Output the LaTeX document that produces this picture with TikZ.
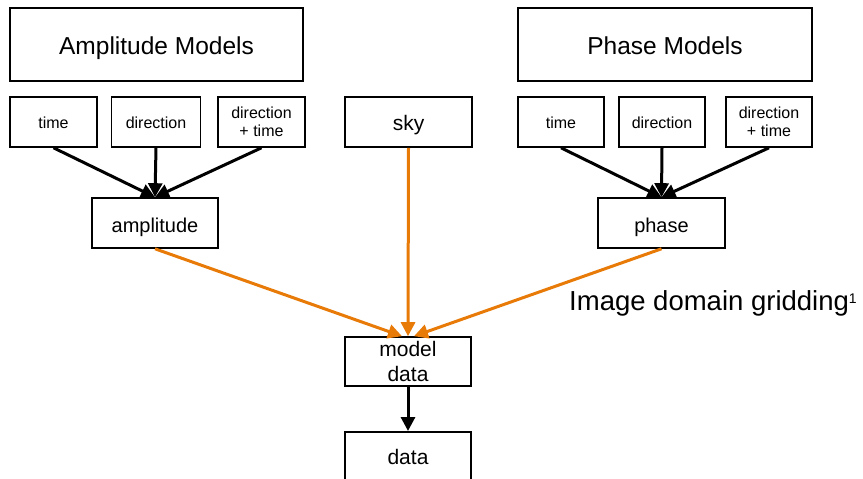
\documentclass[tikz,border=0pt]{standalone}
\usepackage{fontspec}
\setmainfont{Liberation Sans}
\usetikzlibrary{arrows.meta}
\definecolor{orng}{RGB}{232,122,8}
\tikzset{
  box/.style={draw=black, line width=1.6pt, inner sep=0pt, align=center},
  blk/.style={draw=black, line width=3pt, -{Triangle[length=14pt,width=14pt]}},
  org/.style={draw=orng, line width=3pt, -{Triangle[length=14pt,width=14pt]}},
}
\begin{document}
\begin{tikzpicture}[x=1pt,y=-1pt]
\useasboundingbox (0,0) rectangle (863,479);
\begin{scope}
\clip (0,0) rectangle (863,479);
% big boxes
\tikzset{big/.style={box, minimum height=73pt, font=\fontsize{24.5}{28}\selectfont, text height=23pt, text depth=4pt}}
\node[big, minimum width=293pt] (am) at (156.5,44.5) {Amplitude Models};
\node[big, minimum width=294pt] (pm) at (665,44.5) {Phase Models};
% small boxes
\tikzset{sm/.style={box, minimum height=50pt, font=\fontsize{16}{18}\selectfont},
         sm1/.style={sm, text height=15pt, text depth=3pt}}
\node[sm1, minimum width=87pt] (at) at (53.5,122) {time};
\node[sm1, minimum width=89pt] (ad) at (156,122) {direction};
\node[sm, minimum width=87pt] (adt) at (261.5,122) {direction\\+ time};
\node[sm1, minimum width=86pt] (pt) at (561,122) {time};
\node[sm1, minimum width=86pt] (pd) at (662,122) {direction};
\node[sm, minimum width=86pt] (pdt) at (769,122) {direction\\+ time};
\node[box, minimum width=127pt, minimum height=50pt, font=\fontsize{21}{24}\selectfont, text height=20pt, text depth=4pt] (sky) at (408.5,122) {sky};
% amplitude / phase
\tikzset{mid/.style={box, minimum height=50pt, font=\fontsize{20}{24}\selectfont, text height=22pt, text depth=4pt}}
\node[mid, minimum width=126pt] (amp) at (155,223) {amplitude};
\node[mid, minimum width=127pt] (ph) at (661.5,223) {phase};
% model data, data
\node[box, minimum width=126pt, minimum height=49pt, font=\fontsize{21}{25}\selectfont] (md) at (408,361.5) {model\\data};
\node[box, minimum width=126pt, minimum height=60pt, anchor=north, font=\fontsize{21}{25}\selectfont, text depth=0pt] (dt) at (408,431) {\raisebox{9pt}{data}};
% label
\node[anchor=west, font=\fontsize{27.5}{30}\selectfont, inner sep=0pt] (lbl) at (569,303) {Image domain gridding\raisebox{7pt}{\fontsize{14}{16}\selectfont 1}};
% black arrows
\draw[blk] (at.south) -- (amp.north);
\draw[blk] (ad.south) -- (amp.north);
\draw[blk] (adt.south) -- (amp.north);
\draw[blk] (pt.south) -- (ph.north);
\draw[blk] (pd.south) -- (ph.north);
\draw[blk] (pdt.south) -- (ph.north);
% orange arrows
\coordinate (mdl) at ([xshift=-6pt]md.north);
\coordinate (mdr) at ([xshift=6pt]md.north);
\draw[org] (amp.south) -- (mdl);
\draw[org] (sky.south) -- (md.north);
\draw[org] (ph.south) -- (mdr);
% md -> data
\draw[blk] (md.south) -- (dt.north);
\end{scope}
\end{tikzpicture}
\end{document}
